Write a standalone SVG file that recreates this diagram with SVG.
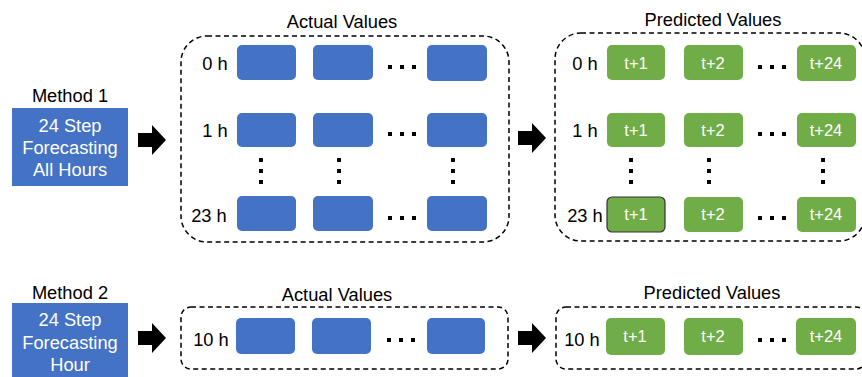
<svg xmlns="http://www.w3.org/2000/svg" width="862" height="377" viewBox="0 0 862 377">
<style>
.t{font-family:"Liberation Sans",Arial,sans-serif;font-size:18.3px;fill:#000;text-anchor:middle}
.w{font-family:"Liberation Sans",Arial,sans-serif;font-size:18.3px;fill:#fff;text-anchor:middle}
.g{font-family:"Liberation Sans",Arial,sans-serif;font-size:16.5px;fill:#fff;text-anchor:middle}
.b{fill:#4472C4}
.gr{fill:#70AD47}
.d{fill:none;stroke:#000;stroke-width:1.5;stroke-dasharray:5 3.5}
.dot{fill:#000}
</style>
<defs>
<path id="arr" d="M0,8 H14 V0 L28,15 L14,30 V22 H0 Z" fill="#000"/>
<g id="hd"><rect class="dot" x="0" y="0" width="4" height="4"/><rect class="dot" x="12" y="0" width="4" height="4"/><rect class="dot" x="24" y="0" width="4" height="4"/></g>
<g id="vd"><rect class="dot" x="0" y="0" width="4" height="4"/><rect class="dot" x="0" y="11" width="4" height="4"/><rect class="dot" x="0" y="22" width="4" height="4"/></g>
</defs>
<g id="method1">
<text class="t" x="70" y="102">Method 1</text>
<rect class="b" x="12" y="108" width="116" height="78"/>
<text class="w" x="70" y="132">24 Step</text>
<text class="w" x="70" y="154">Forecasting</text>
<text class="w" x="70" y="176">All Hours</text>
</g>
<g id="method2">
<text class="t" x="70" y="299">Method 2</text>
<rect class="b" x="12" y="303" width="116" height="80"/>
<text class="w" x="70" y="326">24 Step</text>
<text class="w" x="70" y="349">Forecasting</text>
<text class="w" x="70" y="371">Hour</text>
</g>
<g id="connectors">
<use href="#arr" x="138" y="125"/>
<use href="#arr" x="518" y="123"/>
<use href="#arr" x="138" y="323"/>
<use href="#arr" x="518" y="323"/>
</g>
<g id="actual1">
<text class="t" x="342" y="28">Actual Values</text>
<rect class="d" x="181" y="36" width="328" height="206" rx="26"/>
<text class="t" x="215" y="70">0 h</text>
<text class="t" x="215" y="137">1 h</text>
<text class="t" x="209" y="222">23 h</text>
<rect class="b" x="237" y="45" width="59" height="35" rx="5"/>
<rect class="b" x="313" y="45" width="60" height="35" rx="5"/>
<rect class="b" x="427" y="45" width="60" height="36" rx="5"/>
<rect class="b" x="237" y="113" width="59" height="34" rx="5"/>
<rect class="b" x="313" y="113" width="60" height="34" rx="5"/>
<rect class="b" x="427" y="113" width="60" height="34" rx="5"/>
<rect class="b" x="237" y="196" width="59" height="35" rx="5"/>
<rect class="b" x="313" y="196" width="60" height="35" rx="5"/>
<rect class="b" x="427" y="196" width="60" height="35" rx="5"/>
<use href="#hd" x="388" y="65"/>
<use href="#hd" x="388" y="132"/>
<use href="#hd" x="388" y="216"/>
<use href="#vd" x="259" y="158"/>
<use href="#vd" x="337" y="158"/>
<use href="#vd" x="451" y="158"/>
</g>
<g id="predicted1">
<text class="t" x="713" y="26">Predicted Values</text>
<rect class="d" x="555" y="33" width="310" height="208" rx="26"/>
<text class="t" x="585" y="70">0 h</text>
<text class="t" x="585" y="137">1 h</text>
<text class="t" x="585" y="222">23 h</text>
<rect class="gr" x="607" y="45" width="58" height="35" rx="5"/>
<rect class="gr" x="684" y="45" width="59" height="35" rx="5"/>
<rect class="gr" x="797" y="45" width="59" height="36" rx="5"/>
<rect class="gr" x="607" y="113" width="58" height="34" rx="5"/>
<rect class="gr" x="684" y="113" width="59" height="34" rx="5"/>
<rect class="gr" x="797" y="113" width="59" height="34" rx="5"/>
<rect class="gr" x="607" y="197" width="58" height="35" rx="5" stroke="#333" stroke-width="1.2"/>
<rect class="gr" x="684" y="197" width="59" height="35" rx="5"/>
<rect class="gr" x="797" y="197" width="59" height="35" rx="5"/>
<text class="g" x="636" y="69">t+1</text>
<text class="g" x="713" y="69">t+2</text>
<text class="g" x="826" y="69">t+24</text>
<text class="g" x="636" y="136">t+1</text>
<text class="g" x="713" y="136">t+2</text>
<text class="g" x="826" y="136">t+24</text>
<text class="g" x="636" y="220">t+1</text>
<text class="g" x="713" y="220">t+2</text>
<text class="g" x="826" y="220">t+24</text>
<use href="#hd" x="758" y="65"/>
<use href="#hd" x="758" y="132"/>
<use href="#hd" x="758" y="216"/>
<use href="#vd" x="629" y="158"/>
<use href="#vd" x="707" y="158"/>
<use href="#vd" x="821" y="158"/>
</g>
<g id="actual2">
<text class="t" x="337" y="301">Actual Values</text>
<rect class="d" x="181" y="307" width="327" height="62" rx="10"/>
<text class="t" x="211" y="346">10 h</text>
<rect class="b" x="236" y="318" width="59" height="36" rx="5"/>
<rect class="b" x="312" y="318" width="59" height="36" rx="5"/>
<rect class="b" x="427" y="318" width="58" height="36" rx="5"/>
<use href="#hd" x="387" y="338"/>
</g>
<g id="predicted2">
<text class="t" x="712" y="299">Predicted Values</text>
<rect class="d" x="556" y="307" width="310" height="62" rx="10"/>
<text class="t" x="582" y="346">10 h</text>
<rect class="gr" x="606" y="318" width="59" height="37" rx="5"/>
<rect class="gr" x="684" y="318" width="59" height="37" rx="5"/>
<rect class="gr" x="796" y="318" width="60" height="37" rx="5"/>
<text class="g" x="635" y="342">t+1</text>
<text class="g" x="713" y="342">t+2</text>
<text class="g" x="826" y="342">t+24</text>
<use href="#hd" x="758" y="338"/>
</g>
</svg>
